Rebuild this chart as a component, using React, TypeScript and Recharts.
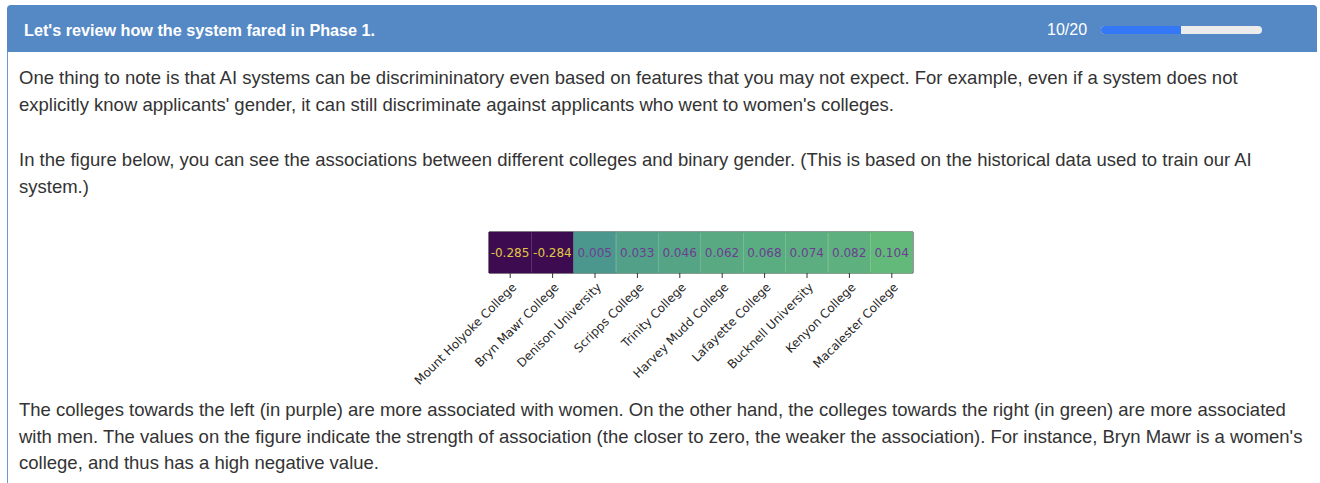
import { Bar, BarChart, Cell, LabelList, ReferenceArea, XAxis, YAxis } from 'recharts'

// Associations between colleges and binary gender (negative = women, positive = men)
const colleges = [
  'Mount Holyoke College',
  'Bryn Mawr College',
  'Denison University',
  'Scripps College',
  'Trinity College',
  'Harvey Mudd College',
  'Lafayette College',
  'Bucknell University',
  'Kenyon College',
  'Macalester College',
]
const associations = [-0.285, -0.284, 0.005, 0.033, 0.046, 0.062, 0.068, 0.074, 0.082, 0.104]

// muted viridis-ish ramp, value -> colour
const RAMP: [number, [number, number, number]][] = [
  [-0.285, [61, 11, 79]],
  [0.005, [75, 150, 141]],
  [0.104, [99, 185, 122]],
]

function rampColor(v: number) {
  let i = 0
  while (i < RAMP.length - 2 && v > RAMP[i + 1][0]) i++
  const [a, ca] = RAMP[i]
  const [b, cb] = RAMP[i + 1]
  const t = Math.max(0, Math.min(1, (v - a) / (b - a)))
  const c = ca.map((x, k) => Math.round(x + (cb[k] - x) * t))
  return `rgb(${c[0]},${c[1]},${c[2]})`
}

const rows = colleges.map((name, i) => ({ name, value: associations[i], cell: 1 }))

const MPL_FONT = '"DejaVu Sans", sans-serif'

function CollegeTick({ x, y, payload }: any) {
  const ax = x + 7
  const ay = y + 8
  return (
    <text
      x={ax}
      y={ay}
      transform={`rotate(-45 ${ax} ${ay})`}
      textAnchor="end"
      fontSize={12}
      fontFamily={MPL_FONT}
      fill="#262626"
    >
      {payload.value}
    </text>
  )
}

function CellValue({ x, y, width, height, value }: any) {
  return (
    <text
      x={x + width / 2}
      y={y + height / 2}
      dy="0.35em"
      textAnchor="middle"
      fontSize={12}
      fontFamily={MPL_FONT}
      fill={value < 0 ? '#e0c844' : '#6b3e92'}
    >
      {value.toFixed(3)}
    </text>
  )
}

function CollegeHeatmap() {
  return (
    <BarChart
      width={560}
      height={180}
      data={rows}
      margin={{ top: 10, right: 27, bottom: 0, left: 109 }}
      barCategoryGap={0}
      barGap={0}
    >
      <XAxis
        dataKey="name"
        interval={0}
        height={129}
        tick={<CollegeTick />}
        tickSize={5}
        tickLine={{ stroke: '#333' }}
        axisLine={false}
      />
      <YAxis hide domain={[0, 1]} />
      <Bar dataKey="cell" isAnimationActive={false}>
        {rows.map((r) => (
          <Cell key={r.name} fill={rampColor(r.value)} stroke={rampColor(r.value)} strokeWidth={0.5} />
        ))}
        <LabelList dataKey="value" content={<CellValue />} />
      </Bar>
      <ReferenceArea
        x1={colleges[0]}
        x2={colleges[colleges.length - 1]}
        y1={0}
        y2={1}
        fill="none"
        stroke="#333"
        strokeWidth={1}
        fillOpacity={0}
        strokeOpacity={1}
        ifOverflow="visible"
      />
    </BarChart>
  )
}

const textStyle: React.CSSProperties = {
  position: 'absolute',
  left: 19,
  fontFamily: '"Liberation Sans", Arial, Helvetica, sans-serif',
  fontSize: 18.5,
  lineHeight: '26.5px',
  color: '#333',
  whiteSpace: 'nowrap',
}

export default function App() {
  return (
    <div style={{ position: 'relative', width: 1320, height: 483, background: '#fff', overflow: 'hidden' }}>
      <style>{'body{margin:0}'}</style>
      {/* header */}
      <div
        style={{
          position: 'absolute',
          left: 7,
          top: 5,
          width: 1310,
          height: 47,
          background: '#5489c6',
          borderRadius: '4px 4px 0 0',
        }}
      />
      <div
        style={{
          position: 'absolute',
          left: 24,
          top: 20,
          color: '#fff',
          fontFamily: '"Liberation Sans", Arial, sans-serif',
          fontWeight: 'bold',
          fontSize: 16.2,
          lineHeight: '20px',
        }}
      >
        Let's review how the system fared in Phase 1.
      </div>
      <div
        style={{
          position: 'absolute',
          left: 1047,
          top: 20,
          color: '#fff',
          fontFamily: '"Liberation Sans", Arial, sans-serif',
          fontSize: 16,
          lineHeight: '20px',
        }}
      >
        10/20
      </div>
      <div
        style={{
          position: 'absolute',
          left: 1101,
          top: 26,
          width: 161,
          height: 8,
          borderRadius: 4,
          background: '#ececec',
          overflow: 'hidden',
        }}
      >
        <div style={{ width: 80, height: 8, background: '#3478f6' }} />
      </div>
      {/* panel left border */}
      <div style={{ position: 'absolute', left: 7, top: 52, width: 1, height: 440, background: '#6a98cf' }} />

      <div style={{ ...textStyle, top: 65 }}>
        <div>
          One thing to note is that AI systems can be discrimininatory even based on features that you may not expect. For example, even if a system does not
        </div>
        <div>explicitly know applicants' gender, it can still discriminate against applicants who went to women's colleges.</div>
      </div>
      <div style={{ ...textStyle, top: 147 }}>
        <div>
          In the figure below, you can see the associations between different colleges and binary gender. (This is based on the historical data used to train our AI
        </div>
        <div>system.)</div>
      </div>

      <div style={{ position: 'absolute', left: 380, top: 222 }}>
        <CollegeHeatmap />
      </div>

      <div style={{ ...textStyle, top: 397 }}>
        <div>
          The colleges towards the left (in purple) are more associated with women. On the other hand, the colleges towards the right (in green) are more associated
        </div>
        <div>
          with men. The values on the figure indicate the strength of association (the closer to zero, the weaker the association). For instance, Bryn Mawr is a women's
        </div>
        <div>college, and thus has a high negative value.</div>
      </div>
    </div>
  )
}
